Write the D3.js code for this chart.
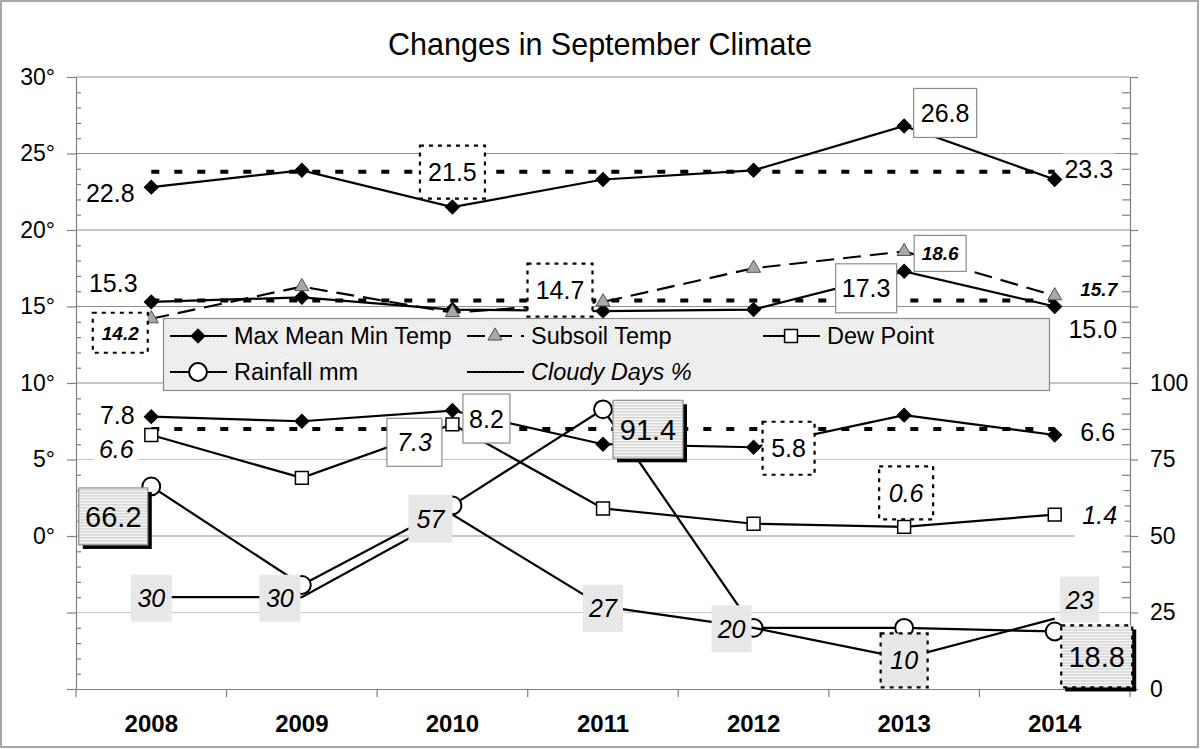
<!DOCTYPE html>
<html>
<head>
<meta charset="utf-8">
<script src="https://cdn.jsdelivr.net/npm/d3@7"></script>
<style>
body { margin: 0; background: #fff; }
svg { display: block; font-family: "Liberation Sans", Arial, sans-serif; }
</style>
</head>
<body>
<svg id="chart" width="1200" height="749"></svg>
<script>
// values
const years = ["2008", "2009", "2010", "2011", "2012", "2013", "2014"];
const maxTemp = [22.8, 23.9, 21.5, 23.3, 23.9, 26.8, 23.3];
const meanTemp = [15.3, 15.6, 14.8, 14.7, 14.8, 17.3, 15.0];
const minTemp = [7.8, 7.5, 8.2, 6.0, 5.8, 7.9, 6.6];
const subsoilTemp = [14.2, 16.3, 14.6, 15.3, 17.5, 18.6, 15.7];
const dewPoint = [6.6, 3.8, 7.3, 1.8, 0.8, 0.6, 1.4];
const rainfall = [66.2, 34, 60, 91.4, 20, 20, 18.8];
const cloudyDays = [30, 30, 57, 27, 20, 10, 23];
const maxAvg = 23.8, meanAvg = 15.4, minAvg = 7.0;

const leftTicks = [-10, -5, 0, 5, 10, 15, 20, 25, 30];
const rightTicks = [0, 25, 50, 75, 100, 125, 150, 175, 200];

const plot = {left: 76, right: 1130, top: 77, bottom: 689};
const font = "Liberation Sans, Arial, sans-serif";

const svg = d3.select("#chart");
const defs = svg.append("defs");

function makePattern(id, size, base, marks) {
    const p = defs.append("pattern").attr("id", id)
        .attr("patternUnits", "userSpaceOnUse")
        .attr("width", size).attr("height", size);
    p.append("rect").attr("width", size).attr("height", size).attr("fill", base);
    marks.forEach(m => p.append("rect").attr("x", m[0]).attr("y", m[1])
        .attr("width", m[2]).attr("height", m[3]).attr("fill", m[4]));
}
makePattern("legendFill", 4, "#f1f1f1", [[0, 0, 1, 1, "#d8d8d8"], [2, 2, 1, 1, "#d8d8d8"]]);
makePattern("cloudFill", 4, "#ebebeb", [[0, 0, 1, 1, "#d0d0d0"], [2, 2, 1, 1, "#d0d0d0"]]);
makePattern("rainFill", 3, "#f6f6f6", [[0, 0, 3, 1, "#c4c4c4"]]);

const x = d3.scaleBand().domain(years).range([plot.left, plot.right]);
const cx = i => x(years[i]) + x.bandwidth() / 2;
const yL = d3.scaleLinear().domain([-10, 30]).range([plot.bottom, plot.top]);
const yR = d3.scaleLinear().domain([0, 200]).range([plot.bottom, plot.top]);

// outer frame
svg.append("rect").attr("x", 1).attr("y", 1).attr("width", 1197).attr("height", 746)
    .attr("fill", "#fff").attr("stroke", "#a8a8a8").attr("stroke-width", 2);

svg.append("text").attr("x", 600).attr("y", 55).attr("text-anchor", "middle")
    .attr("font-size", 30.5).text("Changes in September Climate");

// gridlines
svg.append("g").selectAll("line")
    .data(leftTicks.filter(v => v > -10))
    .join("line")
    .attr("x1", plot.left).attr("x2", plot.right)
    .attr("y1", d => yL(d)).attr("y2", d => yL(d))
    .attr("stroke", d => (d === 5 || d === -5) ? "#c6c6c6" : "#8e8e8e")
    .attr("stroke-width", 1.2);

function styleAxis(g, size) {
    g.attr("font-family", font).attr("font-size", size);
    g.select(".domain").attr("stroke", "#808080").attr("stroke-width", 1.2);
    g.selectAll(".tick line").attr("stroke", "#808080").attr("stroke-width", 1.2);
    g.selectAll(".tick text").attr("fill", "#000");
}

// left axis
const gL = svg.append("g").attr("transform", `translate(${plot.left},0)`)
    .call(d3.axisLeft(yL).tickValues(leftTicks).tickSize(9).tickSizeOuter(0).tickPadding(12)
        .tickFormat(d => d >= 0 ? d + "°" : ""));
styleAxis(gL, 23);
const gLm = svg.append("g").attr("transform", `translate(${plot.left},0)`)
    .call(d3.axisRight(yL).tickValues(d3.range(-10, 31).filter(v => v % 5 !== 0))
        .tickSize(5).tickSizeOuter(0).tickFormat(""));
styleAxis(gLm, 10);
gLm.select(".domain").remove();

// right axis
const gR = svg.append("g").attr("transform", `translate(${plot.right},0)`)
    .call(d3.axisRight(yR).tickValues(rightTicks).tickSize(8).tickSizeOuter(0).tickPadding(12)
        .tickFormat(d => d <= 100 ? d : ""));
styleAxis(gR, 23);
const gRm = svg.append("g").attr("transform", `translate(${plot.right},0)`)
    .call(d3.axisLeft(yR).tickValues(d3.range(0, 201, 5).filter(v => v % 25 !== 0))
        .tickSize(8).tickSizeOuter(0).tickFormat(""));
styleAxis(gRm, 10);
gRm.select(".domain").remove();

// bottom axis
const gB = svg.append("g").attr("transform", `translate(0,${plot.bottom})`)
    .call(d3.axisBottom(x).tickSize(0).tickSizeOuter(0).tickPadding(26));
styleAxis(gB, 24);
gB.selectAll(".tick text").attr("font-weight", "bold");
gB.selectAll(".edge").data(years.map(y => x(y)).concat([plot.right]))
    .join("line").attr("class", "edge")
    .attr("x1", d => d).attr("x2", d => d).attr("y1", 0).attr("y2", 8)
    .attr("stroke", "#808080").attr("stroke-width", 1.2);

// series
const series = {
    max: {vals: maxTemp, y: yL}, mean: {vals: meanTemp, y: yL}, min: {vals: minTemp, y: yL},
    sub: {vals: subsoilTemp, y: yL}, dew: {vals: dewPoint, y: yL},
    rain: {vals: rainfall, y: yR}, cloud: {vals: cloudyDays, y: yR}
};
const px = (key, i) => cx(i);
const py = (key, i) => series[key].y(series[key].vals[i]);

const marks = svg.append("g");

// average lines
[maxAvg, meanAvg, minAvg].forEach(v => {
    marks.append("line").attr("x1", cx(0)).attr("x2", cx(6))
        .attr("y1", yL(v)).attr("y2", yL(v))
        .attr("stroke", "#000").attr("stroke-width", 4).attr("stroke-dasharray", "8,15");
});

const symDiamond = d3.symbol(d3.symbolSquare, 98)();
const symTriangle = d3.symbol(d3.symbolTriangle, 85)();
const symSquare = d3.symbol(d3.symbolSquare, 165)();
const symCircle = d3.symbol(d3.symbolCircle, 250)();

const markerStyles = {
    diamond: s => s.attr("d", symDiamond).attr("fill", "#000").attr("stroke", "#000").attr("stroke-width", 1),
    triangle: s => s.attr("d", symTriangle).attr("fill", "#a8a8a8").attr("stroke", "#505050").attr("stroke-width", 1),
    square: s => s.attr("d", symSquare).attr("fill", "#fff").attr("stroke", "#000").attr("stroke-width", 1.5),
    circle: s => s.attr("d", symCircle).attr("fill", "#fff").attr("stroke", "#000").attr("stroke-width", 2)
};

function drawSeries(key, dash, marker) {
    const s = series[key];
    const line = d3.line().x((d, i) => cx(i)).y(d => s.y(d));
    marks.append("path").attr("d", line(s.vals)).attr("fill", "none")
        .attr("stroke", "#000").attr("stroke-width", 2.2)
        .attr("stroke-dasharray", dash);
    if (!marker) return;
    const m = marks.append("g").selectAll("path").data(s.vals).join("path");
    markerStyles[marker](m);
    m.attr("transform", (d, i) => `translate(${cx(i)},${s.y(d)})` + (marker === "diamond" ? " rotate(45)" : ""));
}
drawSeries("max", null, "diamond");
drawSeries("mean", null, "diamond");
drawSeries("min", null, "diamond");
drawSeries("sub", "18,9", "triangle");
drawSeries("dew", null, "square");
drawSeries("rain", null, "circle");
drawSeries("cloud", null, null);

// legend
const lg = svg.append("g");
lg.append("rect").attr("x", 163.5).attr("y", 318.5).attr("width", 886).attr("height", 72)
    .attr("fill", "url(#legendFill)").attr("stroke", "#8a8a8a").attr("stroke-width", 1.2);
const legendItems = [
    {label: "Max Mean Min Temp", x: 170, y: 336, marker: "diamond", dash: null},
    {label: "Subsoil Temp", x: 467, y: 336, marker: "triangle", dash: "18,9"},
    {label: "Dew Point", x: 763, y: 336, marker: "square", dash: null},
    {label: "Rainfall mm", x: 170, y: 372, marker: "circle", dash: null},
    {label: "Cloudy Days %", x: 467, y: 372, marker: null, dash: null, italic: true}
];
legendItems.forEach(it => {
    lg.append("line").attr("x1", it.x).attr("x2", it.x + 57).attr("y1", it.y).attr("y2", it.y)
        .attr("stroke", "#000").attr("stroke-width", 2.2).attr("stroke-dasharray", it.dash);
    if (it.marker) {
        const m = lg.append("path");
        markerStyles[it.marker](m);
        m.attr("transform", `translate(${it.x + 28},${it.y})` + (it.marker === "diamond" ? " rotate(45)" : ""));
    }
    lg.append("text").attr("x", it.x + 64).attr("y", it.y).attr("dy", "0.36em")
        .attr("font-size", 23.5).attr("font-style", it.italic ? "italic" : null)
        .text(it.label);
});

// data labels
const labelSpecs = [
    {s: "max", i: 0, dx: -41, dy: 6, w: 58, h: 36, style: "plain", fs: 25},
    {s: "max", i: 2, dx: 0, dy: -35, w: 65, h: 53, style: "dotted", fs: 25},
    {s: "max", i: 5, dx: 41, dy: -13, w: 63, h: 49, style: "solid", fs: 25},
    {s: "max", i: 6, dx: 34, dy: -11, w: 52, h: 30, style: "plain", fs: 25},
    {s: "mean", i: 0, dx: -38, dy: -19, w: 58, h: 34, style: "plain", fs: 25},
    {s: "mean", i: 3, dx: -43, dy: -21, w: 65, h: 53, style: "dotted", fs: 25},
    {s: "mean", i: 5, dx: -38, dy: 17, w: 61, h: 49, style: "solid", fs: 25},
    {s: "mean", i: 6, dx: 38, dy: 22, w: 56, h: 34, style: "plain", fs: 25},
    {s: "min", i: 0, dx: -34, dy: -2, w: 44, h: 34, style: "plain", fs: 25},
    {s: "min", i: 2, dx: 34, dy: 8, w: 47, h: 49, style: "solid", fs: 25},
    {s: "min", i: 4, dx: 35, dy: 1, w: 52, h: 53, style: "dotted", fs: 25},
    {s: "min", i: 6, dx: 43, dy: -3, w: 46, h: 34, style: "plain", fs: 25},
    {s: "sub", i: 0, dx: -31, dy: 14, w: 55, h: 40, style: "dotted", fs: 19, it: true, b: true},
    {s: "sub", i: 5, dx: 36, dy: 2, w: 52, h: 36, style: "solid", fs: 19, it: true, b: true},
    {s: "sub", i: 6, dx: 44, dy: -7, w: 44, h: 24, style: "plain", fs: 19, it: true, b: true},
    {s: "dew", i: 0, dx: -35, dy: 14, w: 44, h: 32, style: "plain", fs: 25, it: true},
    {s: "dew", i: 2, dx: -38, dy: 18, w: 55, h: 48, style: "solid", fs: 25, it: true},
    {s: "dew", i: 5, dx: 2, dy: -34, w: 54, h: 53, style: "dotted", fs: 25, it: true},
    {s: "dew", i: 6, dx: 45, dy: 0, w: 50, h: 48, style: "plain", fs: 25, it: true},
    {s: "rain", i: 0, dx: -38, dy: 30, w: 69, h: 57, style: "rain", fs: 29},
    {s: "rain", i: 3, dx: 45, dy: 20, w: 70, h: 58, style: "rain", fs: 29},
    {s: "rain", i: 6, dx: 42, dy: 25, w: 71, h: 62, style: "rainDot", fs: 29},
    {s: "cloud", i: 0, dx: 0, dy: 1, w: 41, h: 47, style: "cloud", fs: 25, it: true, dec: 0},
    {s: "cloud", i: 1, dx: -22, dy: 1, w: 41, h: 47, style: "cloud", fs: 25, it: true, dec: 0},
    {s: "cloud", i: 2, dx: -22, dy: 4, w: 44, h: 48, style: "cloud", fs: 25, it: true, dec: 0},
    {s: "cloud", i: 3, dx: 0, dy: 2, w: 40, h: 47, style: "cloud", fs: 25, it: true, dec: 0},
    {s: "cloud", i: 4, dx: -22, dy: 1, w: 40, h: 47, style: "cloud", fs: 25, it: true, dec: 0},
    {s: "cloud", i: 5, dx: 0, dy: 2, w: 47, h: 54, style: "cloudDot", fs: 25, it: true, dec: 0},
    {s: "cloud", i: 6, dx: 25, dy: -19, w: 39, h: 46, style: "cloud", fs: 25, it: true, dec: 0}
];

const boxStyles = {
    plain: {fill: "#fff", stroke: "none"},
    solid: {fill: "#fff", stroke: "#8c8c8c", sw: 1.2},
    dotted: {fill: "#fff", stroke: "#000", sw: 2.2, dash: "4,5"},
    rain: {fill: "url(#rainFill)", stroke: "#8c8c8c", sw: 1.2, shadow: true},
    rainDot: {fill: "url(#rainFill)", stroke: "#000", sw: 2.2, dash: "4,5", shadow: true},
    cloud: {fill: "url(#cloudFill)", stroke: "none"},
    cloudDot: {fill: "url(#cloudFill)", stroke: "#000", sw: 2.2, dash: "4,5"}
};

const labels = svg.append("g");
labelSpecs.forEach(l => {
    const c = [px(l.s, l.i) + l.dx, py(l.s, l.i) + l.dy];
    const st = boxStyles[l.style];
    const g = labels.append("g").attr("transform", `translate(${c[0]},${c[1]})`);
    if (st.shadow) {
        g.append("rect").attr("x", -l.w / 2 + 4).attr("y", -l.h / 2 + 4)
            .attr("width", l.w).attr("height", l.h).attr("fill", "#000");
    }
    g.append("rect").attr("x", -l.w / 2).attr("y", -l.h / 2)
        .attr("width", l.w).attr("height", l.h)
        .attr("fill", st.fill).attr("stroke", st.stroke)
        .attr("stroke-width", st.sw || 0).attr("stroke-dasharray", st.dash || null);
    const fmt = d3.format(l.dec === 0 ? "d" : ".1f");
    g.append("text").attr("text-anchor", "middle").attr("dy", "0.36em")
        .attr("font-size", l.fs)
        .attr("font-style", l.it ? "italic" : null)
        .attr("font-weight", l.b ? "bold" : null)
        .text(fmt(series[l.s].vals[l.i]));
});
</script>
</body>
</html>
